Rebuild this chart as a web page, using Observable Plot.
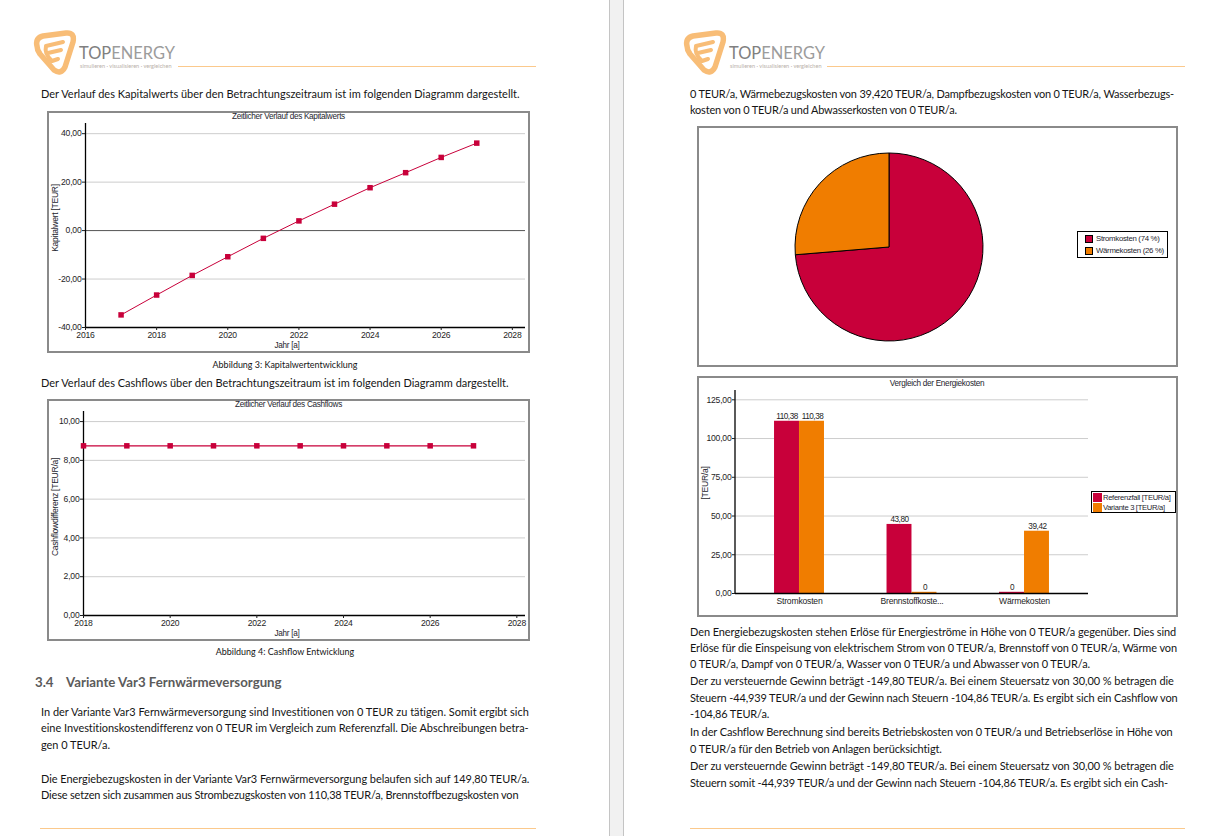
<!DOCTYPE html>
<html><head><meta charset="utf-8">
<script src="https://cdn.jsdelivr.net/npm/d3@7"></script>
<script src="https://cdn.jsdelivr.net/npm/@observablehq/plot@0.6"></script>
<style>
body{margin:0;width:1216px;height:836px;position:relative;overflow:hidden;background:#fff;font-family:Lato,sans-serif;}
.t{position:absolute;white-space:nowrap;color:#151515;}
.frame{position:absolute;border:2px solid #8a8a8a;box-sizing:border-box;background:#fff;}
.ct{position:absolute;white-space:nowrap;font-family:"Liberation Sans",Arial,sans-serif;font-size:8.2px;letter-spacing:-0.3px;color:#1e1e2e;line-height:10px;}
.hl{position:absolute;height:1px;background:#fbc98c;}
.leg{position:absolute;border:1px solid #000;background:#fff;box-sizing:border-box;}
.sw{position:absolute;box-sizing:border-box;}
</style></head>
<body>
<script>
// ---------------- data ----------------
const kapitalYears = [2017, 2018, 2019, 2020, 2021, 2022, 2023, 2024, 2025, 2026, 2027];
const kapitalwert = [-34.8, -26.6, -18.5, -10.8, -3.2, 4.0, 10.9, 17.7, 23.9, 30.2, 36.1];
const kapitalTicksX = [2016, 2018, 2020, 2022, 2024, 2026, 2028];
const kapitalTicksY = [-40, -20, 0, 20, 40];

const cashYears = [2018, 2019, 2020, 2021, 2022, 2023, 2024, 2025, 2026, 2027];
const cashflow = [8.75, 8.75, 8.75, 8.75, 8.75, 8.75, 8.75, 8.75, 8.75, 8.75];
const cashTicksX = [2018, 2020, 2022, 2024, 2026, 2028];
const cashTicksY = [0, 2, 4, 6, 8, 10];

const pieNames = ["Stromkosten", "Wärmekosten"];
const pieLabels = ["Stromkosten (74 %)", "Wärmekosten (26 %)"];
const pieValues = [110.38, 39.42];

const barCategories = ["Stromkosten", "Brennstoffkosten", "Wärmekosten"];
const barTickLabels = ["Stromkosten", "Brennstoffkoste...", "Wärmekosten"];
const barSeries = ["Referenzfall [TEUR/a]", "Variante 3 [TEUR/a]"];
const referenzfall = [110.38, 43.80, 0];
const variante3 = [110.38, 0, 39.42];
const barTicksY = [0, 25, 50, 75, 100, 125];

const CRIMSON = "#c8003a", ORANGE = "#f07d00";

// ---------------- text content ----------------
const leftIntro1 = "Der Verlauf des Kapitalwerts über den Betrachtungszeitraum ist im folgenden Diagramm dargestellt.";
const caption3 = "Abbildung 3: Kapitalwertentwicklung";
const leftIntro2 = "Der Verlauf des Cashflows über den Betrachtungszeitraum ist im folgenden Diagramm dargestellt.";
const caption4 = "Abbildung 4: Cashflow Entwicklung";
const headingNum = "3.4";
const headingText = "Variante Var3 Fernwärmeversorgung";
const leftPara1 = [
  "In der Variante Var3 Fernwärmeversorgung sind Investitionen von 0 TEUR zu tätigen. Somit ergibt sich",
  "eine Investitionskostendifferenz von 0 TEUR im Vergleich zum Referenzfall. Die Abschreibungen betra-",
  "gen 0 TEUR/a."
];
const leftPara1End = [531, 530, null];
const leftPara2 = [
  "Die Energiebezugskosten in der Variante Var3 Fernwärmeversorgung belaufen sich auf 149,80 TEUR/a.",
  "Diese setzen sich zusammen aus Strombezugskosten von 110,38 TEUR/a, Brennstoffbezugskosten von"
];
const leftPara2End = [531, 519];
const rightTop = [
  "0 TEUR/a, Wärmebezugskosten von 39,420 TEUR/a, Dampfbezugskosten von 0 TEUR/a, Wasserbezugs-",
  "kosten von 0 TEUR/a und Abwasserkosten von 0 TEUR/a."
];
const rightTopEnd = [1176, null];
const rightBottom = [
  "Den Energiebezugskosten stehen Erlöse für Energieströme in Höhe von 0 TEUR/a gegenüber. Dies sind",
  "Erlöse für die Einspeisung von elektrischem Strom von 0 TEUR/a, Brennstoff von 0 TEUR/a, Wärme von",
  "0 TEUR/a, Dampf von 0 TEUR/a, Wasser von 0 TEUR/a und Abwasser von 0 TEUR/a.",
  "Der zu versteuernde Gewinn beträgt -149,80 TEUR/a. Bei einem Steuersatz von 30,00 % betragen die",
  "Steuern -44,939 TEUR/a und der Gewinn nach Steuern -104,86 TEUR/a. Es ergibt sich ein Cashflow von",
  "-104,86 TEUR/a.",
  "In der Cashflow Berechnung sind bereits Betriebskosten von 0 TEUR/a und Betriebserlöse in Höhe von",
  "0 TEUR/a für den Betrieb von Anlagen berücksichtigt.",
  "Der zu versteuernde Gewinn beträgt -149,80 TEUR/a. Bei einem Steuersatz von 30,00 % betragen die",
  "Steuern somit -44,939 TEUR/a und der Gewinn nach Steuern -104,86 TEUR/a. Es ergibt sich ein Cash-"
];
const rightBottomEnd = [1177, 1179, null, 1175, 1179, null, 1174, null, 1175, 1169];
const rightBottomY = [632, 648, 664, 681, 698, 714, 732, 749, 766, 783];

// ---------------- helpers ----------------
const fmt2 = d => d.toFixed(2).replace(".", ",");
const ctx = document.createElement("canvas").getContext("2d");
function fit(text, font, target) { ctx.font = "100px " + font; return 100 * target / ctx.measureText(text).width; }
function measure(text, size, weight = "") { ctx.font = `${weight} ${size}px Lato`; return ctx.measureText(text).width; }
const bodySize = fit(leftIntro1, "Lato", 480);
const capSize = fit(caption3, "Lato", 145);
const headSize = fit(headingText, "Lato", 229);

function el(tag, cls, parent = document.body) { const e = document.createElement(tag); if (cls) e.className = cls; parent.appendChild(e); return e; }
function T(x, yc, str, o = {}) {
  const size = o.size || bodySize, lh = Math.round(size * 1.4);
  const d = el("div", "t", o.parent);
  d.textContent = str;
  Object.assign(d.style, {left: x + "px", top: (yc - lh / 2 - 1) + "px", fontSize: size + "px", lineHeight: lh + "px",
    color: o.color || "#151515", fontWeight: o.weight || 400, fontFamily: o.family || "Lato"});
  if (o.center) d.style.transform = "translateX(-50%)";
  if (o.ls != null) d.style.letterSpacing = o.ls + "px";
  return d;
}
// a paragraph: lines with known right ends get spacing fitted; others reuse the previous spacing
function para(x, ys, lines, ends) {
  let ls = 0;
  lines.forEach((s, i) => {
    if (ends[i] != null) {
      const w = measure(s, bodySize);
      ls = (ends[i] - x - w) / (s.length - 1);
    }
    T(x, ys[i], s, {ls});
  });
}
function CT(parent, x, yc, str, o = {}) {
  const d = el("div", "ct", parent);
  d.textContent = str;
  d.style.left = x + "px"; d.style.top = yc + "px";
  d.style.transform = o.rot ? "translate(-50%,-50%) rotate(-90deg)" : (o.left ? "translate(0,-50%)" : "translate(-50%,-50%)");
  if (o.size) d.style.fontSize = o.size + "px";
  return d;
}
function hline(x1, x2, y) { const d = el("div", "hl"); Object.assign(d.style, {left: x1 + "px", width: (x2 - x1) + "px", top: y + "px"}); }

// ---------------- page chrome ----------------
const gap = el("div");
Object.assign(gap.style, {position: "absolute", left: "609px", top: "0", width: "15px", height: "836px", background: "#f1f1f1",
  borderLeft: "1px solid #c4c4c4", borderRight: "1px solid #c4c4c4", boxSizing: "border-box"});

function logo(x) {
  const w = el("div"); Object.assign(w.style, {position: "absolute", left: (x - 2) + "px", top: "30px", width: "46px", height: "46px"});
  w.innerHTML = `<svg width="46" height="46" viewBox="0 0 46 46">
    <path d="M6 16 Q4 8 12 6 L35 3 Q44 2 42 12 L34 37 Q30 45 23 40 L9 24 Q6 20 6 16 Z" fill="none" stroke="#f8bd77" stroke-width="5.5" stroke-linejoin="round"/>
    <path d="M15 16 L32 12 M17 23 L30 20 M15 16 Q13 24 21 31 L27 29" fill="none" stroke="#f8bd77" stroke-width="4" stroke-linecap="round" stroke-linejoin="round"/>
  </svg>`;
  const t = el("div", "t");
  const brand = fit("TOPENERGY", "Lato", 96);
  Object.assign(t.style, {left: (x + 46) + "px", top: "44px", fontSize: brand + "px", lineHeight: "18px", color: "#9c9c9c"});
  t.innerHTML = `<span style="color:#808080">TOP</span>ENERGY`;
  const s = el("div", "t");
  Object.assign(s.style, {left: (x + 47) + "px", top: "62px", fontSize: "5.6px", lineHeight: "8px", color: "#b9b1aa"});
  s.textContent = "simulieren · visualisieren · vergleichen";
}
logo(33); logo(683);
hline(178, 536, 66); hline(827, 1185, 66);
hline(40, 536, 828); hline(690, 1185, 828);

// ---------------- left page text ----------------
T(41, 94, leftIntro1);
T(285, 365, caption3, {size: capSize, center: true});
T(41, 383, leftIntro2);
T(285, 652, caption4, {size: capSize, center: true});
T(35, 683, headingNum, {size: headSize * 0.93, weight: 700, color: "#5b5b5b"});
T(66, 683, headingText, {size: headSize * 0.93, weight: 700, color: "#5b5b5b"});
para(41, [712, 728.5, 745], leftPara1, leftPara1End);
para(41, [779, 795.5], leftPara2, leftPara2End);

// ---------------- right page text ----------------
para(690, [94, 110.5], rightTop, rightTopEnd);
para(690, rightBottomY, rightBottom, rightBottomEnd);

// ---------------- common plot style ----------------
const plotStyle = {background: "transparent", fontFamily: "'Liberation Sans', Arial, sans-serif", fontSize: "8.6px", color: "#1e1e1e", letterSpacing: "-0.2px", overflow: "visible"};
function frame(l, t, w, h) { const f = el("div", "frame"); Object.assign(f.style, {left: l + "px", top: t + "px", width: w + "px", height: h + "px"}); return f; }
function place(f, svg) { svg.style.position = "absolute"; svg.style.left = "0"; svg.style.top = "0"; f.appendChild(svg); }

// ---------------- chart 1: Kapitalwert ----------------
{
  const f = frame(47, 111, 483, 242);
  const data = kapitalYears.map((y, i) => ({year: y, value: kapitalwert[i]}));
  const svg = Plot.plot({
    width: 479, height: 238, marginLeft: 36, marginRight: 3, marginTop: 10, marginBottom: 24,
    style: plotStyle,
    x: {domain: [2016, 2028.37]},
    y: {domain: [-40, 44.2]},
    marks: [
      Plot.ruleY(kapitalTicksY.filter(d => d !== 0 && d !== -40), {stroke: "#cdcdcd", strokeWidth: 1}),
      Plot.ruleY([0], {stroke: "#555", strokeWidth: 1}),
      Plot.ruleY([-40], {stroke: "#000", strokeWidth: 1.3}),
      Plot.ruleX([2016], {stroke: "#000", strokeWidth: 1.3}),
      Plot.axisY({ticks: kapitalTicksY, tickFormat: fmt2, tickSize: 3, tickPadding: 1, label: null}),
      Plot.axisX({ticks: kapitalTicksX, tickFormat: d => String(d), tickSize: 3, tickPadding: 1, label: null}),
      Plot.line(data, {x: "year", y: "value", stroke: CRIMSON, strokeWidth: 1}),
      Plot.dot(data, {x: "year", y: "value", symbol: "square", r: 3.1, fill: CRIMSON, stroke: "none"})
    ]
  });
  place(f, svg);
  CT(f, 239.5, 4, "Zeitlicher Verlauf des Kapitalwerts");
  CT(f, 6, 105, "Kapitalwert [TEUR]", {rot: true, size: 8.6});
  CT(f, 238, 233, "Jahr [a]");
}

// ---------------- chart 2: Cashflow ----------------
{
  const f = frame(47, 399, 483, 242);
  const data = cashYears.map((y, i) => ({year: y, value: cashflow[i]}));
  const svg = Plot.plot({
    width: 479, height: 238, marginLeft: 34, marginRight: 3, marginTop: 10, marginBottom: 24,
    style: plotStyle,
    x: {domain: [2018, 2028.2]},
    y: {domain: [0, 10.52]},
    marks: [
      Plot.ruleY(cashTicksY.filter(d => d !== 0), {stroke: "#cdcdcd", strokeWidth: 1}),
      Plot.ruleY([0], {stroke: "#000", strokeWidth: 1.3}),
      Plot.ruleX([2018], {stroke: "#000", strokeWidth: 1.3}),
      Plot.axisY({ticks: cashTicksY, tickFormat: fmt2, tickSize: 3, tickPadding: 1, label: null}),
      Plot.axisX({ticks: cashTicksX, tickFormat: d => String(d), tickSize: 3, tickPadding: 1, label: null}),
      Plot.line(data, {x: "year", y: "value", stroke: CRIMSON, strokeWidth: 1.2}),
      Plot.dot(data, {x: "year", y: "value", symbol: "square", r: 3.1, fill: CRIMSON, stroke: "none"})
    ]
  });
  place(f, svg);
  CT(f, 239.5, 4, "Zeitlicher Verlauf des Cashflows");
  CT(f, 6, 106, "Cashflowdifferenz [TEUR/a]", {rot: true, size: 8.6});
  CT(f, 238, 233, "Jahr [a]");
}

// ---------------- chart 3: pie ----------------
{
  const f = frame(697, 126, 481, 241);
  const pieColors = [CRIMSON, ORANGE];
  const pieMark = (index, scales, values, dims) => {
    const g = d3.create("svg:g").attr("transform", `translate(${190},${119})`);
    const arcs = d3.pie().sort(null)(pieValues);
    g.selectAll("path").data(arcs).join("path")
      .attr("d", d3.arc().innerRadius(0).outerRadius(94))
      .attr("fill", (d, i) => pieColors[i])
      .attr("stroke", "#000").attr("stroke-width", 1);
    g.selectAll("path").append("title").text((d, i) => pieNames[i]);
    return g.node();
  };
  const svg = Plot.plot({width: 477, height: 237, margin: 0, style: plotStyle, marks: [pieMark]});
  place(f, svg);
  const lg = el("div", "leg", f);
  Object.assign(lg.style, {left: "378px", top: "103px", width: "91px", height: "27px"});
  pieLabels.forEach((s, i) => {
    const sq = el("div", "sw", lg);
    Object.assign(sq.style, {left: "7px", top: (3 + i * 12) + "px", width: "8px", height: "8px", background: pieColors[i], border: "1px solid #000"});
    const tx = CT(lg, 18, 7 + i * 12, s, {left: true});
    tx.style.fontSize = "7.8px";
  });
}

// ---------------- chart 4: bar ----------------
{
  const f = frame(697, 376, 481, 241);
  const refData = barCategories.map((c, i) => ({cat: c, series: barSeries[0], value: referenzfall[i]}));
  const varData = barCategories.map((c, i) => ({cat: c, series: barSeries[1], value: variante3[i]}));
  const lab = v => v === 0 ? "0" : fmt2(v);
  const yAxisLine = (index, scales, values, d) => {
    const g = d3.create("svg:line")
      .attr("x1", d.marginLeft).attr("x2", d.marginLeft)
      .attr("y1", d.marginTop).attr("y2", d.height - d.marginBottom)
      .attr("stroke", "#000").attr("stroke-width", 1.3);
    return g.node();
  };
  const svg = Plot.plot({
    width: 477, height: 237, marginLeft: 36, marginRight: 88, marginTop: 12, marginBottom: 22,
    style: plotStyle,
    x: {domain: barCategories, paddingInner: 0.556, paddingOuter: 0.347, round: false},
    y: {domain: [0, 131]},
    marks: [
      Plot.ruleY(barTicksY.filter(d => d !== 0), {stroke: "#cdcdcd", strokeWidth: 1}),
      Plot.barY(refData, {x: "cat", y: "value", fill: CRIMSON, insetRight: 25, insetTop: -1.2}),
      Plot.barY(varData, {x: "cat", y: "value", fill: ORANGE, insetLeft: 25, insetTop: -1.2}),
      Plot.text(refData, {x: "cat", y: "value", text: d => lab(d.value), dx: -12.5, dy: -6, fill: "#1e1e1e", fontSize: 8.2}),
      Plot.text(varData, {x: "cat", y: "value", text: d => lab(d.value), dx: 13, dy: -6, fill: "#1e1e1e", fontSize: 8.2}),
      Plot.ruleY([0], {stroke: "#000", strokeWidth: 1.3}),
      yAxisLine,
      Plot.axisY({ticks: barTicksY, tickFormat: fmt2, tickSize: 3, tickPadding: 1, label: null}),
      Plot.axisX({tickSize: 0, tickPadding: 4, tickFormat: d => barTickLabels[barCategories.indexOf(d)], label: null})
    ]
  });
  svg.querySelectorAll("text").forEach(t => { if (/^\d/.test(t.textContent) && t.closest("[aria-label='text']")) t.style.letterSpacing = "-0.45px"; });
  place(f, svg);
  CT(f, 238, 6, "Vergleich der Energiekosten");
  CT(f, 6, 105, "[TEUR/a]", {rot: true, size: 8.6});
  const lg = el("div", "leg", f);
  Object.assign(lg.style, {left: "392px", top: "113px", width: "85px", height: "22px"});
  [CRIMSON, ORANGE].forEach((c, i) => {
    const sq = el("div", "sw", lg);
    Object.assign(sq.style, {left: "1px", top: (1 + i * 10) + "px", width: "9px", height: "9px", background: c});
    const tx = CT(lg, 11, 5.5 + i * 10, barSeries[i], {left: true});
    tx.style.fontSize = "7.6px";
  });
}
</script>
</body></html>
